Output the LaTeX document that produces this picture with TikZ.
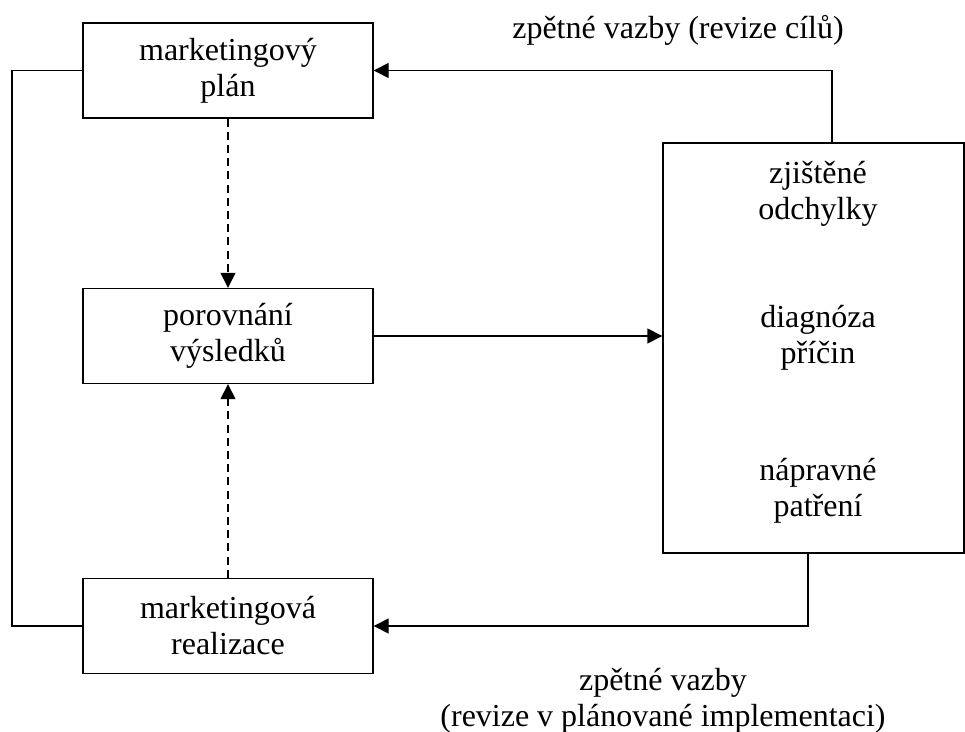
\documentclass[tikz,border=0pt]{standalone}
\usepackage{fontspec}
\setmainfont{Liberation Serif}
\usetikzlibrary{arrows.meta}
\begin{document}
\begin{tikzpicture}[x=0.5pt,y=-0.5pt,
  box/.style={draw,line width=0.7pt,minimum width=145pt,minimum height=47.5pt,inner sep=0pt,align=center,font=\fontsize{16}{18}\selectfont},
  bigbox/.style={draw,line width=0.7pt,minimum width=150.5pt,minimum height=205pt,inner sep=0pt},
  lbl/.style={align=center,inner sep=0pt,font=\fontsize{16}{18}\selectfont},
  conn/.style={line width=0.7pt},
  arr/.style={line width=0.7pt,-{Triangle[length=7.5pt,width=7.5pt]}},
  dsh/.style={line width=0.7pt,dash pattern=on 4pt off 2.6pt,-{Triangle[length=7.5pt,width=7.5pt]}}]
\useasboundingbox (0,0) rectangle (965,732);
\node[box] (plan) at (228,70.5) {marketingový\\plán};
\node[box] (por) at (228,336) {porovnání\\výsledků};
\node[box] (real) at (228,626) {marketingová\\realizace};
\node[bigbox] (right) at (813.5,348) {};
\node[lbl] (t1) at (818,194) {zjištěné\\odchylky};
\node[lbl] (t2) at (818,338) {diagnóza\\příčin};
\node[lbl] (t3) at (818,491) {nápravné\\patření};
\node[lbl] (fb1) at (678,30) {zpětné vazby (revize cílů)};
\node[lbl] (fb2) at (663,701) {zpětné vazby\\(revize v plánované implementaci)};
\coordinate (lt) at (12,70.5);
\coordinate (lb) at (12,626);
\coordinate (rt) at (832,70.5);
\coordinate (rb) at (808,626);
\draw[conn] (plan.west) -- (lt) -- (lb) -- (real.west);
\draw[arr] (right.north -| rt) -- (rt) -- (plan.east);
\draw[arr] (right.south -| rb) -- (rb) -- (real.east);
\draw[arr] (por.east) -- (por.east -| right.west);
\draw[dsh] (plan.south) -- (por.north);
\draw[dsh] (real.north) -- (por.south);
\end{tikzpicture}
\end{document}
